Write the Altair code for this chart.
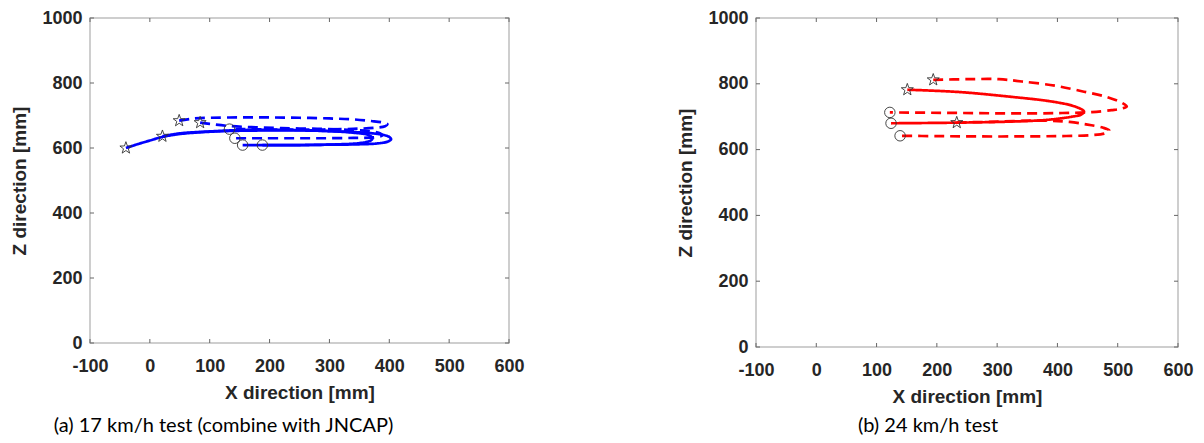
import altair as alt
import pandas as pd

X_TICKS = [-100, 0, 100, 200, 300, 400, 500, 600]
Y_TICKS = [0, 200, 400, 600, 800, 1000]

# ---- Panel (a): 17 km/h test (blue) ----
A_SOLID1_X = [-40, -20, 0, 21, 50, 100, 150, 200, 250, 300, 350, 385, 400, 403, 398, 380, 340, 290, 240, 190, 155]
A_SOLID1_Y = [600, 612, 623, 634, 643, 650, 653, 654, 654, 652, 648, 642, 634, 627, 620, 614, 611, 610, 609, 609, 609]
A_SOLID2_X = [21, 50, 100, 150, 200, 250, 300, 340, 365, 372, 368, 350, 310, 260, 220, 188]
A_SOLID2_Y = [636, 645, 651, 655, 656, 655, 652, 647, 640, 630, 622, 615, 611, 609, 609, 609]
A_DASH1_X = [49, 70, 100, 150, 200, 250, 300, 340, 370, 390, 397, 393, 375, 340, 290, 240, 190, 150, 133]
A_DASH1_Y = [684, 690, 693, 694, 694, 693, 691, 688, 683, 678, 673, 667, 662, 659, 657, 657, 657, 658, 658]
A_DASH2_X = [84, 100, 130, 170, 220, 280, 330, 365, 385, 388, 375, 340, 290, 240, 190, 160, 142]
A_DASH2_Y = [678, 674, 668, 664, 661, 659, 656, 652, 645, 638, 633, 631, 630, 630, 630, 630, 630]
A_STAR_X = [-40, 21, 49, 84]
A_STAR_Y = [600, 636, 684, 678]
A_CIRC_X = [133, 142, 155, 188]
A_CIRC_Y = [658, 630, 609, 609]

# ---- Panel (b): 24 km/h test (red) ----
B_SOLID_X = [151, 237, 320, 391, 429, 444, 440, 424, 380, 320, 237, 124]
B_SOLID_Y = [782, 775, 761, 746, 731, 716, 707, 700, 690, 685, 682, 680]
B_DASH1_X = [194, 250, 303, 341, 397, 444, 480, 507, 515, 505, 490, 457, 400, 330, 260, 190, 122]
B_DASH1_Y = [812, 814, 814, 807, 794, 776, 761, 742, 731, 724, 720, 714, 711, 710, 711, 712, 713]
B_DASH2_X = [233, 300, 380, 420, 450, 475, 486, 480, 457, 400, 330, 260, 200, 139]
B_DASH2_Y = [682, 685, 688, 684, 676, 667, 658, 650, 644, 641, 640, 640, 641, 642]
B_STAR_X = [151, 194, 233]
B_STAR_Y = [782, 812, 682]
B_CIRC_X = [122, 124, 139]
B_CIRC_Y = [713, 680, 642]

STAR = ("M0,-1L0.235,-0.324L0.951,-0.309L0.380,0.124L0.588,0.809L0,0.4"
        "L-0.588,0.809L-0.380,0.124L-0.951,-0.309L-0.235,-0.324Z")


def curves_df(curves):
    rows = []
    for name, style, xs, ys in curves:
        for i, (x, y) in enumerate(zip(xs, ys)):
            rows.append({"curve": name, "style": style, "i": i, "x": x, "y": y})
    return pd.DataFrame(rows)


def make_panel(curves, sx, sy, cx, cy, color, w, h, caption, cap_dx, cap_offset):
    xs = alt.Scale(domain=[-100, 600], nice=False, zero=False)
    ys = alt.Scale(domain=[0, 1000], nice=False, zero=False)
    xaxis = alt.Axis(values=X_TICKS, title="X direction [mm]", labelPadding=14,
                     titlePadding=8, labelExpr="'' + datum.value", labelFlush=False)
    yaxis = alt.Axis(values=Y_TICKS, title="Z direction [mm]", labelPadding=8,
                     titlePadding=12, labelExpr="'' + datum.value", labelFlush=False)
    ldf = curves_df(curves)
    lines = alt.Chart(ldf).mark_line(color=color, strokeWidth=2.7,
                                     interpolate="catmull-rom").encode(
        x=alt.X("x:Q", scale=xs, axis=xaxis),
        y=alt.Y("y:Q", scale=ys, axis=yaxis),
        detail="curve:N",
        order="i:Q",
        strokeDash=alt.StrokeDash("style:N",
                                  scale=alt.Scale(domain=["solid", "dashed"],
                                                  range=[[1, 0], [10, 6]]),
                                  legend=None),
    )
    stars = alt.Chart(pd.DataFrame({"x": sx, "y": sy})).mark_point(
        shape=STAR, filled=False, color="#333333", strokeWidth=0.9, size=160, opacity=1
    ).encode(x=alt.X("x:Q", scale=xs, axis=xaxis), y=alt.Y("y:Q", scale=ys, axis=yaxis))
    circs = alt.Chart(pd.DataFrame({"x": cx, "y": cy})).mark_point(
        shape="circle", filled=False, color="#333333", strokeWidth=0.9, size=110, opacity=1
    ).encode(x=alt.X("x:Q", scale=xs, axis=xaxis), y=alt.Y("y:Q", scale=ys, axis=yaxis))
    xt = pd.DataFrame({"x": X_TICKS})
    yt = pd.DataFrame({"y": Y_TICKS})
    tcol = "#666666"
    xt_b = alt.Chart(xt).mark_rule(color=tcol, strokeWidth=1).encode(
        x=alt.X("x:Q", scale=xs, axis=xaxis), y=alt.value(h), y2=alt.value(h - 4))
    xt_t = alt.Chart(xt).mark_rule(color=tcol, strokeWidth=1).encode(
        x=alt.X("x:Q", scale=xs, axis=xaxis), y=alt.value(0), y2=alt.value(4))
    yt_l = alt.Chart(yt).mark_rule(color=tcol, strokeWidth=1).encode(
        y=alt.Y("y:Q", scale=ys, axis=yaxis), x=alt.value(0), x2=alt.value(4))
    yt_r = alt.Chart(yt).mark_rule(color=tcol, strokeWidth=1).encode(
        y=alt.Y("y:Q", scale=ys, axis=yaxis), x=alt.value(w - 4), x2=alt.value(w))
    return alt.layer(lines, xt_b, xt_t, yt_l, yt_r, stars, circs).properties(
        width=w, height=h,
        title=alt.TitleParams(text=caption, orient="bottom", anchor="middle",
                              font="Lato", fontSize=20, fontWeight="normal",
                              color="black", dx=cap_dx, offset=cap_offset),
    )


left = make_panel(
    [("s1", "solid", A_SOLID1_X, A_SOLID1_Y),
     ("s2", "solid", A_SOLID2_X, A_SOLID2_Y),
     ("d1", "dashed", A_DASH1_X, A_DASH1_Y),
     ("d2", "dashed", A_DASH2_X, A_DASH2_Y)],
    A_STAR_X, A_STAR_Y, A_CIRC_X, A_CIRC_Y, "#0000ff", 419, 325,
    "(a) 17 km/h test (combine with JNCAP)", -76, 14)

right = make_panel(
    [("s1", "solid", B_SOLID_X, B_SOLID_Y),
     ("d1", "dashed", B_DASH1_X, B_DASH1_Y),
     ("d2", "dashed", B_DASH2_X, B_DASH2_Y)],
    B_STAR_X, B_STAR_Y, B_CIRC_X, B_CIRC_Y, "#ff0000", 422, 329,
    "(b) 24 km/h test", -39, 10)

chart = alt.hconcat(left, right, spacing=151).properties(
    padding={"left": 10, "top": 8, "right": 0, "bottom": 0},
    background="white",
).configure_view(stroke="#bfbfbf", strokeWidth=1.5).configure_axis(
    labelFont="Liberation Sans", labelFontWeight="bold", labelFontSize=18,
    labelColor="#262626", titleFont="Liberation Sans", titleFontSize=19,
    titleFontWeight="bold", titleColor="#262626", domain=False, ticks=False,
    tickSize=0, grid=False
)

chart.save("out.html", embed_options={"renderer": "svg", "actions": False})
